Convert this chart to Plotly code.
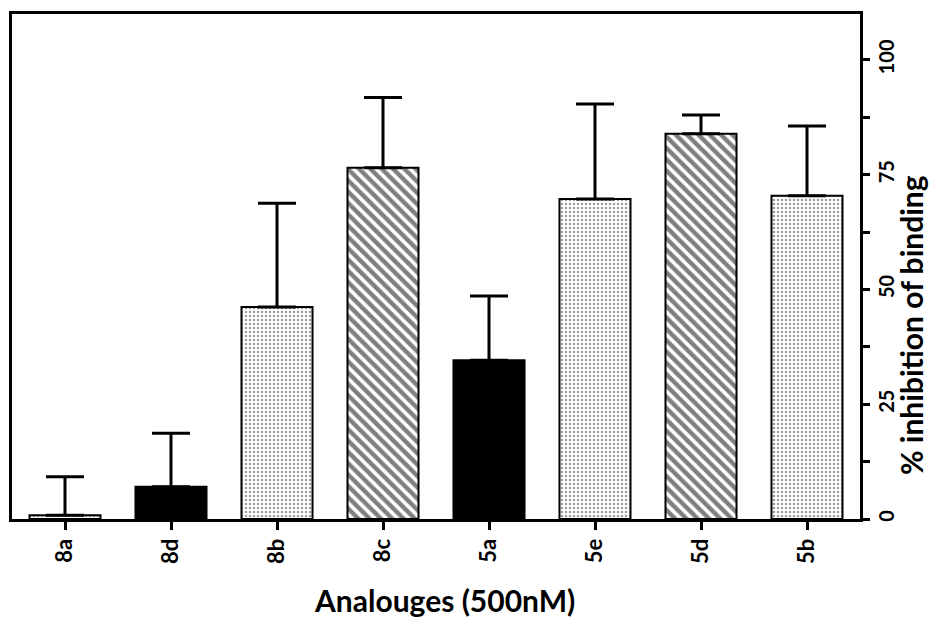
import plotly.graph_objects as go

categories = ["8a", "8d", "8b", "8c", "5a", "5e", "5d", "5b"]
values = [0.8, 7.0, 46.2, 76.5, 34.6, 69.7, 83.9, 70.4]
errors = [8.4, 11.7, 22.6, 15.3, 14.0, 20.7, 4.1, 15.2]
styles = ["dot", "solid", "dot", "hatch", "solid", "dot", "hatch", "dot"]
y_ticks = [0, 25, 50, 75, 100]
x_title = "Analouges (500nM)"
y_title = "% inhibition of binding"

style_defs = {
    "dot": dict(color="white", pattern=dict(shape=".", fgcolor="#3a3a3a", bgcolor="white", size=4, solidity=0.3)),
    "solid": dict(color="black"),
    "hatch": dict(color="white", pattern=dict(shape="\\", fgcolor="black", bgcolor="white", size=8, solidity=0.55)),
}

fig = go.Figure()
for st, mk in style_defs.items():
    idx = [i for i, s in enumerate(styles) if s == st]
    fig.add_trace(go.Bar(
        x=[categories[i] for i in idx], y=[values[i] for i in idx],
        marker=dict(line=dict(color="black", width=2), **mk),
        error_y=dict(type="data", array=[errors[i] for i in idx], arrayminus=[0]*len(idx), symmetric=False,
                     color="black", thickness=3, width=19),
    ))

font_family = "Lato, 'Open Sans', sans-serif"
fig.update_layout(
    width=931, height=617,
    margin=dict(l=12, r=71, t=14, b=98, autoexpand=False),
    plot_bgcolor="white", paper_bgcolor="white",
    bargap=0.33, barmode="overlay",
    showlegend=False,
    xaxis=dict(
        categoryorder="array", categoryarray=categories,
        showline=True, linecolor="black", linewidth=3, mirror=True,
        ticks="outside", ticklen=8, tickwidth=3, tickcolor="black",
        tickangle=-90, automargin=False,
        tickfont=dict(family=font_family, size=22, color="black", weight=700),
    ),
    yaxis=dict(
        side="right", range=[0, 110], automargin=False,
        showline=True, linecolor="black", linewidth=3, mirror=True,
        showgrid=False, zeroline=False,
        tickvals=y_ticks, ticktext=[str(v) for v in y_ticks],
        ticks="outside", ticklen=7, tickwidth=3, tickcolor="black",
        minor=dict(dtick=12.5, ticks="outside", ticklen=7, tickwidth=3, tickcolor="black", showgrid=False),
        tickangle=-90,
        tickfont=dict(family=font_family, size=20, color="black", weight=700),
    ),
    annotations=[
        dict(text=x_title, xref="paper", yref="paper", x=0.51, y=-0.16, xanchor="center", yanchor="middle",
             showarrow=False, font=dict(family=font_family, size=30, color="black", weight=700)),
        dict(text=y_title, xref="paper", yref="paper", x=1.0 + (911 - 860) / 848, y=0.384, xanchor="center", yanchor="middle",
             textangle=-90, showarrow=False, font=dict(family=font_family, size=30, color="black", weight=700)),
    ],
)

fig.write_html("out.html")
